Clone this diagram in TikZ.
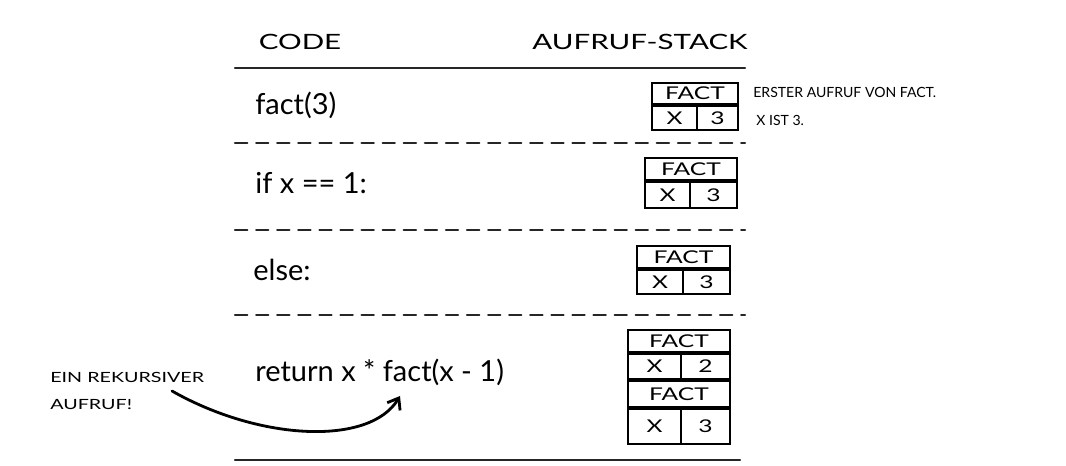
\documentclass[tikz,border=0pt]{standalone}
\usepackage{fontspec}
\setmainfont{Lato}
\newfontfamily\widefont[FakeStretch=1.4]{Lato}
\usetikzlibrary{arrows.meta, positioning}

\begin{document}
\begin{tikzpicture}[cell/.style={draw=black, line width=1.1pt, inner sep=0pt, font=\widefont\fontsize{10}{11}\selectfont},
  rule/.style={line width=1.2pt, black!85, line cap=round},
  dashrule/.style={rule, dash pattern=on 7pt off 5pt},
  head/.style={font=\widefont\fontsize{12}{14}\selectfont},
  codetext/.style={anchor=west, inner sep=0pt, font=\fontsize{16.5}{19}\selectfont},
  note/.style={anchor=west, inner sep=0pt, font=\fontsize{8}{10}\selectfont},
  widenote/.style={note, font=\widefont\fontsize{8}{10}\selectfont}]
\useasboundingbox (0.00, 0.00) rectangle (21.32, 9.32);
\node[head] (codehead) at (6.00, 8.48) {CODE};
\node[head] (stackhead) at (12.80, 8.48) {AUFRUF-STACK};
\draw[rule] (4.70, 7.96) -- (14.90, 7.96);
\draw[dashrule] (4.70, 6.46) -- (14.90, 6.46);
\draw[dashrule] (4.70, 4.72) -- (14.90, 4.72);
\draw[dashrule] (4.70, 3.02) -- (14.90, 3.02);
\draw[rule] (4.70, 0.12) -- (14.80, 0.12);
\node[codetext] (code1) at (5.10, 7.22) {fact(3)};
\node[codetext] (code2) at (5.10, 5.66) {if x == 1:};
\node[codetext] (code3) at (5.06, 3.92) {else:};
\node[codetext] (code4) at (5.10, 1.88) {return x * fact(x - 1)};
\node[cell, minimum width=1.72cm, minimum height=0.42cm] (fact1) at (13.90, 7.45) {FACT};
\node[cell, minimum width=0.90cm, minimum height=0.48cm, anchor=north west] (x1) at (fact1.south west) {X};
\node[cell, minimum width=0.82cm, minimum height=0.48cm, anchor=north east] (val1) at (fact1.south east) {3};
\node[note] (note1) at (15.06, 7.48) {ERSTER AUFRUF VON FACT.};
\node[note] (note2) at (15.12, 6.92) {X IST 3.};
\node[cell, minimum width=1.84cm, minimum height=0.44cm] (fact2) at (13.82, 5.94) {FACT};
\node[cell, minimum width=0.90cm, minimum height=0.52cm, anchor=north west] (x2) at (fact2.south west) {X};
\node[cell, minimum width=0.94cm, minimum height=0.52cm, anchor=north east] (val2) at (fact2.south east) {3};
\node[cell, minimum width=1.86cm, minimum height=0.44cm] (fact3) at (13.67, 4.18) {FACT};
\node[cell, minimum width=0.92cm, minimum height=0.48cm, anchor=north west] (x3) at (fact3.south west) {X};
\node[cell, minimum width=0.94cm, minimum height=0.48cm, anchor=north east] (val3) at (fact3.south east) {3};
\node[cell, minimum width=2.04cm, minimum height=0.44cm] (fact4) at (13.58, 2.50) {FACT};
\node[cell, minimum width=1.06cm, minimum height=0.50cm, anchor=north west] (x4) at (fact4.south west) {X};
\node[cell, minimum width=0.98cm, minimum height=0.50cm, anchor=north east] (val4) at (fact4.south east) {2};
\node[cell, minimum width=2.04cm, minimum height=0.52cm, anchor=north west] (fact5) at (x4.south west) {FACT};
\node[cell, minimum width=1.06cm, minimum height=0.70cm, anchor=north west] (x5) at (fact5.south west) {X};
\node[cell, minimum width=0.98cm, minimum height=0.70cm, anchor=north east] (val5) at (fact5.south east) {3};
\node[widenote] (rek1) at (1.00, 1.78) {EIN REKURSIVER};
\node[widenote] (rek2) at (1.00, 1.22) {AUFRUF!};
\coordinate (arrowstart) at (3.44, 1.50);
\coordinate (arrowend) at (8.00, 1.40);
\draw[line width=1.6pt, line cap=round, -{Straight Barb[length=2mm, width=3mm]}] (arrowstart) .. controls (5.20, 0.50) and (7.40, 0.40) .. (arrowend);
\end{tikzpicture}
\end{document}
